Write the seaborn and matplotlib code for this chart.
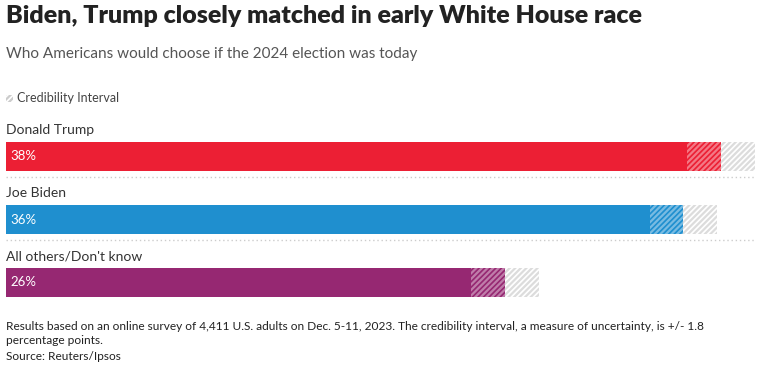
import pandas as pd
import matplotlib.pyplot as plt
import seaborn as sns
from matplotlib.patches import Rectangle

# poll result, percent
candidates = ['Donald Trump', 'Joe Biden', "All others/Don't know"]
shares = [38.0, 36.0, 26.5]
share_labels = ['38%', '36%', '26%']
bar_colors = ['#EC1F34', '#1F8FCF', '#962872']
margin = 1.8  # credibility interval, +/- points

df = pd.DataFrame({'candidate': candidates, 'share': shares, 'label': share_labels})
df['low'] = df['share'] - margin

sns.set_style('white')
plt.rcParams['font.family'] = ['Lato', 'DejaVu Sans']
plt.rcParams['hatch.linewidth'] = 1.6

fig = plt.figure(figsize=(7.62, 3.73), dpi=100)
W, H = 762, 373
# axes placed in pixel terms
x0, x1 = 6, 755
y_top, y_bot = 125, 314
ax = fig.add_axes([x0 / W, 1 - y_bot / H, (x1 - x0) / W, (y_bot - y_top) / H])

# solid part of the bar: up to the low end of the interval
sns.barplot(data=df, y='candidate', x='low', hue='candidate', palette=bar_colors,
            orient='h', width=0.46, legend=False, ax=ax, saturation=1)
for p in ax.patches:
    p.set_linewidth(0)

for i, row in df.iterrows():
    # coloured hatched part below the estimate
    ax.barh(i, margin, left=row['low'], height=0.46, color=bar_colors[i],
            hatch='//////', edgecolor=(1, 1, 1, 0.4), linewidth=0)
    # grey hatched part above the estimate
    ax.barh(i, margin, left=row['share'], height=0.46, color='white',
            hatch='//////', edgecolor='#dcdcdc', linewidth=0)
    ax.text(0.25, i, row['label'], color='white', fontsize=9.5,
            va='center', ha='left')
    ax.text(0, i - 0.42, row['candidate'], color='#333333', fontsize=10,
            va='center', ha='left')
    if i < len(df) - 1:
        ax.axhline(i + 0.33, color='#cccccc', linestyle=(0, (1, 2)), linewidth=1)

ax.set_xlim(0, max(shares) + margin)
ax.set_ylim(len(df) - 0.5, -0.5)
ax.set_xlabel('')
ax.set_ylabel('')
ax.set_xticks([])
ax.set_yticks([])
sns.despine(ax=ax, left=True, bottom=True)

fig.text(6 / W, 1 - 16 / H, 'Biden, Trump closely matched in early White House race',
         fontsize=18, fontweight='heavy', color='#222222', va='center', ha='left')
fig.text(6 / W, 1 - 54 / H, 'Who Americans would choose if the 2024 election was today',
         fontsize=11, color='#555555', va='center', ha='left')

# legend swatch
fig.patches.append(Rectangle((6 / W, 1 - 102 / H), 7 / W, 7 / H, transform=fig.transFigure,
                             facecolor='white', hatch='//////', edgecolor='#cccccc',
                             linewidth=0))
fig.text(17 / W, 1 - 98 / H, 'Credibility Interval', fontsize=9, color='#444444',
         va='center', ha='left')

fig.text(6 / W, 1 - 326 / H,
         'Results based on an online survey of 4,411 U.S. adults on Dec. 5-11, 2023. '
         'The credibility interval, a measure of uncertainty, is +/- 1.8',
         fontsize=8.6, color='#222222', va='center', ha='left')
fig.text(6 / W, 1 - 341 / H, 'percentage points.', fontsize=8.6, color='#222222',
         va='center', ha='left')
fig.text(6 / W, 1 - 357 / H, 'Source: Reuters/Ipsos', fontsize=8.6, color='#222222',
         va='center', ha='left')

fig.savefig('out.png', dpi=100)
